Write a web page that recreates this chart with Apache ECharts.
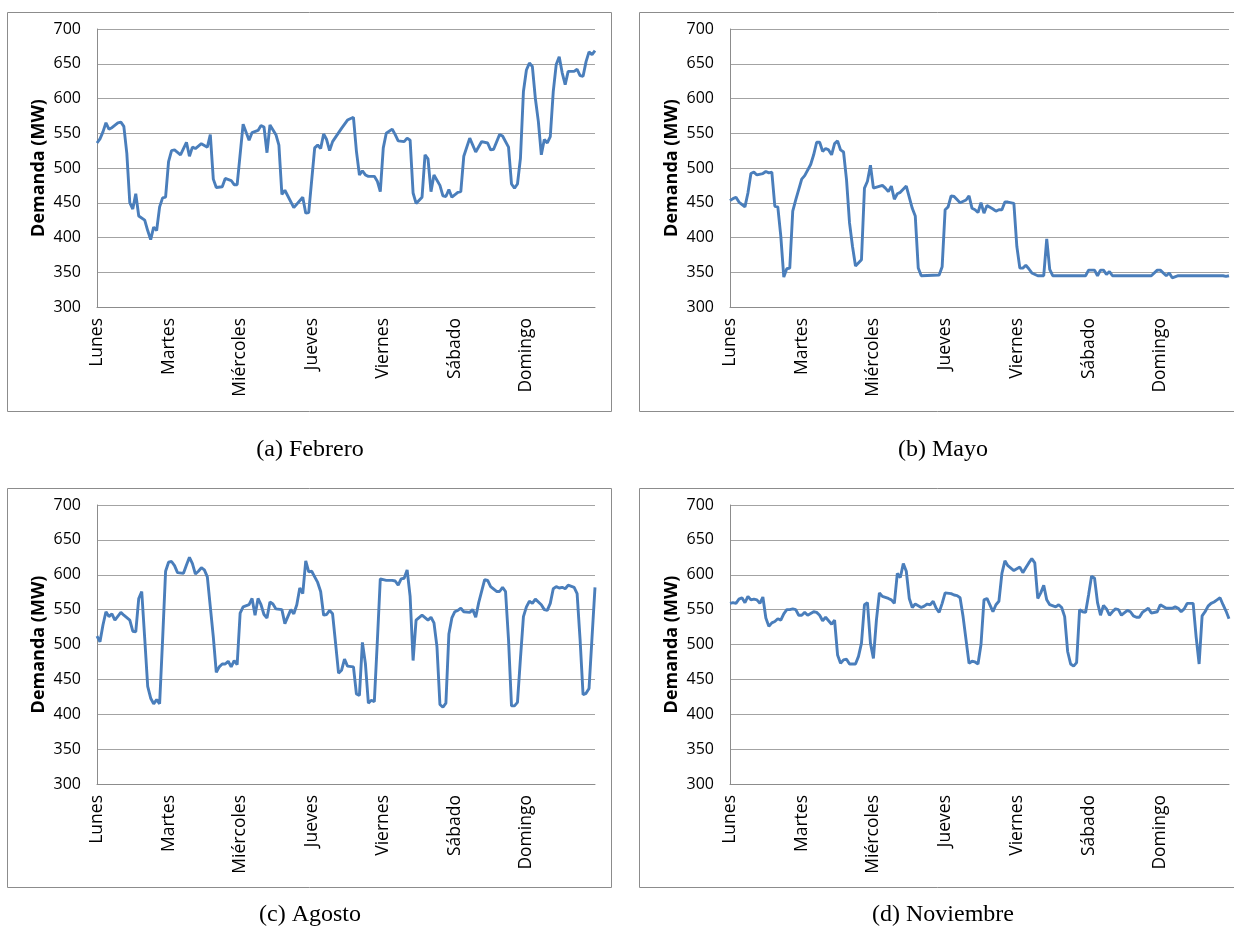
<!DOCTYPE html>
<html>
<head>
<meta charset="utf-8">
<script src="https://cdn.jsdelivr.net/npm/echarts@6/dist/echarts.min.js"></script>
<style>
  html, body { margin: 0; padding: 0; background: #ffffff; }
  #chart { width: 1234px; height: 938px; }
</style>
</head>
<body>
<div id="chart"></div>
<script>
// Weekday tick labels (one every 24 hourly samples)
const dayLabels = ['Lunes', 'Martes', 'Miércoles', 'Jueves', 'Viernes', 'Sábado', 'Domingo'];
const hoursPerDay = 24;
const lastHour = 167;

// Demand axis range (MW)
const mwMin = 300;
const mwMax = 700;
const mwStep = 50;

// (a) Febrero — hour of week, demand in MW
const febHours = [0,1,2,3,4,5,7,8,9,10,11,12,13,14,16,17,18,19,20,21,22,23,24,25,26,28,30,31,32,33,35,37,38,39,40,42,43,45,46,47,49,51,52,54,55,56,57,58,60,61,62,63,66,69,70,71,73,74,75,76,77,78,79,82,84,86,87,88,89,90,91,93,94,95,96,97,99,100,101,103,104,105,106,107,109,110,111,112,113,115,116,117,118,119,121,122,123,125,127,129,131,132,133,135,136,138,139,140,141,142,143,144,145,146,147,148,149,150,151,152,153,154,155,156,157,158,160,161,162,163,164,165,166,167];
const febMW    = [536,542,552,565,556,558,565,566,560,521,450,441,463,431,425,410,397,415,410,444,457,458,509,525,526,519,537,517,530,528,535,530,548,484,472,473,485,482,476,476,563,540,551,554,561,559,522,562,548,533,462,468,443,458,435,436,529,533,528,549,541,525,538,557,569,573,524,490,496,490,488,488,481,466,529,550,556,548,539,538,543,540,464,449,458,519,513,466,490,475,460,459,469,458,465,466,517,543,523,538,536,526,527,548,546,530,477,471,477,514,610,641,651,646,600,567,519,541,536,545,610,649,660,637,620,639,639,642,633,632,653,667,663,669];

// (b) Mayo
const mayHours = [0,1,2,3,5,6,7,8,9,11,12,13,14,15,16,17,18,19,20,21,22,24,25,27,28,29,30,31,32,33,34,35,36,37,38,39,40,41,42,44,45,46,47,48,51,52,53,54,55,56,57,59,61,62,63,64,70,71,72,73,74,75,77,79,80,81,82,83,84,85,86,88,89,90,91,92,93,95,96,97,98,99,100,101,103,105,106,107,108,119,120,122,123,124,125,126,127,128,141,143,144,146,147,148,150,165,166,167];
const mayMW    = [453,456,458,451,444,464,492,494,490,492,495,493,494,445,444,402,343,355,356,438,454,484,489,505,519,537,537,524,528,526,519,535,539,526,523,483,421,387,359,368,471,481,504,471,475,471,466,474,455,463,465,474,442,431,356,345,346,358,440,444,460,459,450,454,460,442,440,436,450,435,446,441,438,440,440,451,451,449,387,356,356,360,355,349,345,345,398,354,345,345,353,353,345,353,353,347,351,345,345,353,353,345,349,342,345,345,344,345];

// (c) Agosto
const augHours = [0,1,2,3,4,5,6,8,9,11,12,13,14,15,16,17,18,19,20,21,22,23,24,25,26,27,29,30,31,32,33,34,35,36,37,38,39,40,41,42,43,44,45,46,47,48,49,51,52,53,54,55,56,57,58,59,60,62,63,65,66,67,68,69,70,71,72,73,74,75,76,77,78,79,80,81,82,83,84,86,87,88,89,90,91,92,93,94,95,97,99,100,101,102,103,104,105,106,107,109,111,112,113,114,115,116,117,118,119,120,121,122,123,125,126,127,128,130,131,132,134,135,136,137,138,139,140,141,142,143,144,145,146,147,149,150,151,152,153,154,155,156,157,158,160,161,162,163,164,165,166,167];
const augMW    = [512,504,528,547,540,544,535,546,542,535,519,518,566,576,509,440,423,415,421,415,507,605,618,619,613,603,602,614,625,616,601,605,610,607,597,554,511,460,468,472,472,476,468,477,471,545,554,557,566,542,566,557,543,538,561,558,551,550,530,550,544,557,581,573,620,604,605,597,589,576,542,543,549,544,502,459,463,479,469,468,429,427,503,473,416,420,418,504,594,592,592,591,585,594,595,607,569,477,535,542,535,539,531,497,414,410,416,515,538,547,549,552,547,546,550,539,560,593,592,583,576,576,582,576,507,412,412,417,480,540,554,562,559,565,557,550,549,559,580,583,581,582,580,585,582,573,507,428,430,437,510,582];

// (d) Noviembre
const novHours = [0,1,2,3,4,5,6,7,8,9,10,11,12,13,14,15,16,17,18,19,20,21,22,23,24,25,26,28,29,30,31,32,33,34,35,36,37,38,39,40,42,43,44,45,46,47,48,49,50,51,53,54,55,56,57,58,59,60,61,62,64,65,66,67,68,69,70,71,72,74,75,76,77,78,80,81,82,83,84,85,86,88,89,90,91,92,93,95,97,98,99,100,101,102,103,104,105,106,107,109,110,111,112,113,114,115,116,117,118,119,120,121,122,123,124,125,126,127,128,129,130,131,133,134,135,136,137,138,140,141,143,144,146,147,148,149,150,151,152,153,155,156,157,158,159,160,161,162,163,164,165,166,167];
const novMW    = [559,560,559,565,567,560,569,564,565,564,559,568,538,526,531,533,537,535,544,550,550,551,550,542,542,546,542,547,546,542,534,539,534,529,535,485,473,478,479,472,472,483,502,557,560,502,480,535,574,569,566,564,559,602,596,616,605,566,553,558,553,555,558,557,562,552,546,559,574,573,571,570,567,540,473,476,475,472,500,564,566,547,557,562,602,620,613,606,611,603,610,617,623,617,566,574,585,564,557,554,557,553,540,490,472,469,474,550,547,546,571,598,595,560,542,556,551,542,547,551,550,542,549,547,541,539,539,546,552,545,547,557,552,552,552,554,552,547,551,559,559,511,472,541,547,555,559,561,564,567,557,548,537];

const pairs = (hours, mw) => hours.map((h, i) => [h, mw[i]]);

const panels = [
  { hours: febHours, mw: febMW, caption: '(a) Febrero',
    grid: { left: 97, top: 29, width: 498, height: 278 }, frame: [7.5, 12.5, 604, 399], cap: [310, 450] },
  { hours: mayHours, mw: mayMW, caption: '(b) Mayo',
    grid: { left: 730, top: 29, width: 499, height: 278 }, frame: [639.5, 12.5, 610, 399], cap: [943, 450] },
  { hours: augHours, mw: augMW, caption: '(c) Agosto',
    grid: { left: 97, top: 505, width: 498, height: 279 }, frame: [7.5, 488.5, 604, 399], cap: [310, 915] },
  { hours: novHours, mw: novMW, caption: '(d) Noviembre',
    grid: { left: 730, top: 505, width: 499, height: 279 }, frame: [639.5, 488.5, 610, 399], cap: [943, 915] }
];

const uiFont = '"Open Sans", "Noto Sans", sans-serif';
const axisGray = '#8c8c8c';
const gridGray = '#a3a3a3';

const option = {
  backgroundColor: '#ffffff',
  animation: false,
  grid: panels.map(p => Object.assign({ containLabel: false }, p.grid)),
  xAxis: panels.map((p, i) => ({
    type: 'value',
    gridIndex: i,
    min: 0,
    max: lastHour,
    interval: hoursPerDay,
    axisLine: { show: true, lineStyle: { color: axisGray, width: 1 } },
    axisTick: { show: false },
    splitLine: { show: false },
    axisLabel: {
      rotate: 90,
      margin: 11,
      fontFamily: uiFont,
      fontSize: 17.5,
      color: '#000',
      formatter: v => (v % hoursPerDay === 0 && v / hoursPerDay < dayLabels.length) ? dayLabels[v / hoursPerDay] : ''
    }
  })),
  yAxis: panels.map((p, i) => ({
    type: 'value',
    gridIndex: i,
    min: mwMin,
    max: mwMax,
    interval: mwStep,
    name: 'Demanda (MW)',
    nameLocation: 'middle',
    nameGap: 49,
    nameTextStyle: { fontFamily: uiFont, fontWeight: 'bold', fontSize: 18, color: '#000' },
    axisLine: { show: true, lineStyle: { color: axisGray, width: 1 } },
    axisTick: { show: false },
    axisLabel: { margin: 16, fontFamily: uiFont, fontSize: 16, color: '#000' },
    splitLine: { show: true, lineStyle: { color: gridGray, width: 1 } }
  })),
  series: panels.map((p, i) => ({
    type: 'line',
    xAxisIndex: i,
    yAxisIndex: i,
    data: pairs(p.hours, p.mw),
    symbol: 'none',
    showSymbol: false,
    lineStyle: { color: '#4a7ebb', width: 2.9 },
    itemStyle: { color: '#4a7ebb' }
  })),
  graphic: [
    ...panels.map(p => ({
      type: 'rect',
      silent: true,
      z: -1,
      shape: { x: p.frame[0], y: p.frame[1], width: p.frame[2], height: p.frame[3] },
      style: { fill: 'none', stroke: axisGray, lineWidth: 1 }
    })),
    ...panels.map(p => ({
      type: 'text',
      silent: true,
      x: p.cap[0],
      y: p.cap[1],
      style: {
        text: p.caption,
        font: '24px "Liberation Serif", "DejaVu Serif", serif',
        fill: '#000',
        textAlign: 'center',
        textVerticalAlign: 'middle',
        verticalAlign: 'middle'
      }
    }))
  ]
};

const chart = echarts.init(document.getElementById('chart'), null, { renderer: 'canvas' });
chart.setOption(option);
</script>
</body>
</html>
